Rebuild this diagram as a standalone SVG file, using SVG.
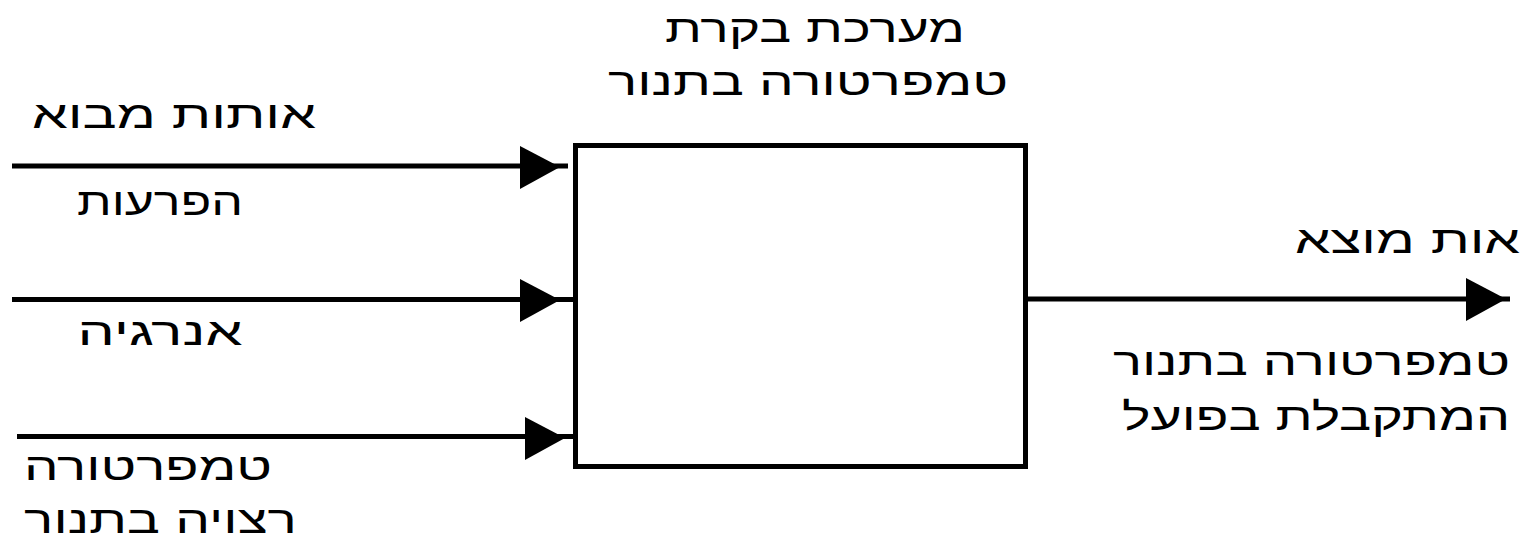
<svg xmlns="http://www.w3.org/2000/svg" xmlns:xlink="http://www.w3.org/1999/xlink" width="1526" height="540" viewBox="0 0 1526 540">
<style>
.t{font-family:"Liberation Sans","DejaVu Sans",sans-serif;font-size:38px;fill:#000;text-anchor:middle;direction:rtl}
.ln{stroke:#000;stroke-width:5;fill:none}
.box{stroke:#000;stroke-width:5;fill:#fff}
.ah{fill:#000}
</style>
<defs>
<polygon id="ah" class="ah" points="0,-21 40,0 0,22"/>
</defs>
<rect width="1526" height="540" fill="#fff"/>
<g id="system">
<rect class="box" x="575.5" y="145.5" width="450" height="321"/>
<text class="t" x="815" y="42" textLength="300" lengthAdjust="spacingAndGlyphs">מערכת בקרת</text>
<text class="t" x="808" y="95" textLength="400" lengthAdjust="spacingAndGlyphs">טמפרטורה בתנור</text>
</g>
<g id="connectors">
<line class="ln" x1="12" y1="166" x2="568" y2="166"/>
<use xlink:href="#ah" x="520" y="167"/>
<line class="ln" x1="12" y1="299.5" x2="575" y2="299.5"/>
<use xlink:href="#ah" x="520" y="300"/>
<line class="ln" x1="17" y1="436.5" x2="575" y2="436.5"/>
<use xlink:href="#ah" x="525" y="438"/>
<line class="ln" x1="1025" y1="299" x2="1510" y2="299"/>
<use xlink:href="#ah" x="1466" y="299"/>
</g>
<g id="label-inputs">
<text class="t" x="174" y="128" textLength="284" lengthAdjust="spacingAndGlyphs">אותות מבוא</text>
</g>
<g id="label-disturbances">
<text class="t" x="160" y="215" textLength="166" lengthAdjust="spacingAndGlyphs">הפרעות</text>
</g>
<g id="label-energy">
<text class="t" x="160" y="345" textLength="165" lengthAdjust="spacingAndGlyphs">אנרגיה</text>
</g>
<g id="label-desired">
<text class="t" x="148" y="480" textLength="248" lengthAdjust="spacingAndGlyphs">טמפרטורה</text>
<text class="t" x="160.5" y="533" textLength="273" lengthAdjust="spacingAndGlyphs">רצויה בתנור</text>
</g>
<g id="label-output">
<text class="t" x="1407.5" y="253" textLength="225" lengthAdjust="spacingAndGlyphs">אות מוצא</text>
<text class="t" x="1311.5" y="375" textLength="397" lengthAdjust="spacingAndGlyphs">טמפרטורה בתנור</text>
<text class="t" x="1316" y="430" textLength="388" lengthAdjust="spacingAndGlyphs">המתקבלת בפועל</text>
</g>
</svg>
